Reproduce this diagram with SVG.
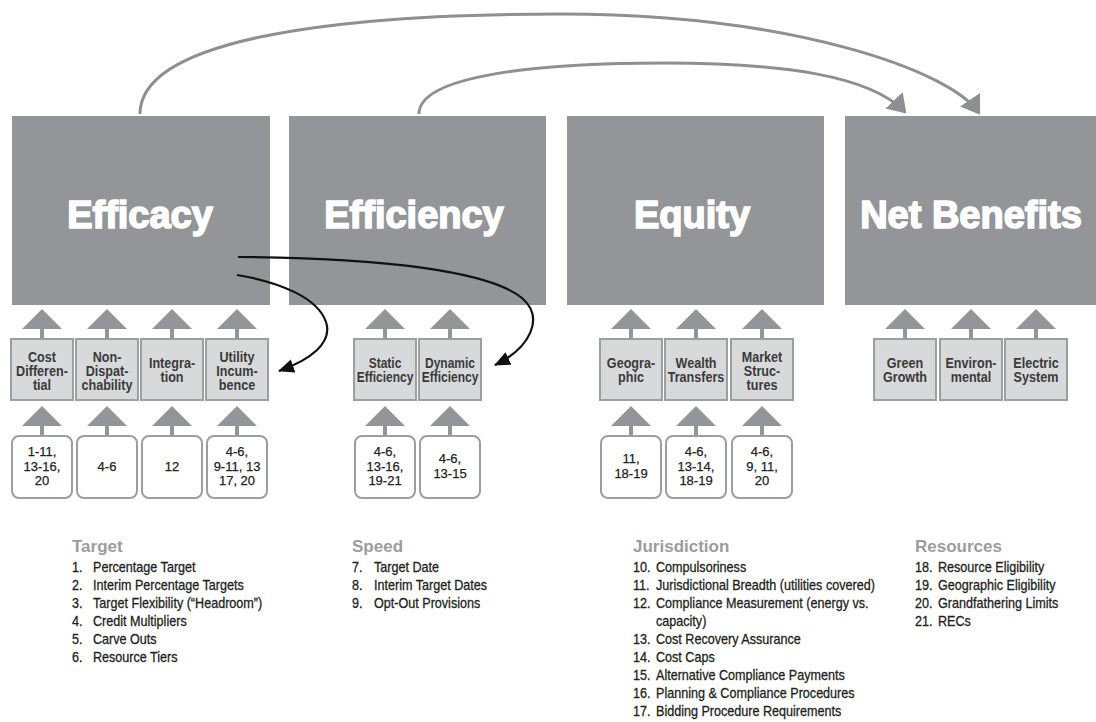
<svg xmlns="http://www.w3.org/2000/svg" xmlns:xlink="http://www.w3.org/1999/xlink" width="1096" height="722" viewBox="0 0 1096 722">
  <style>
    .big { fill: #939598; }
    .bigt { font-family: "Liberation Sans", Arial, sans-serif; font-weight: bold; font-size: 38px; fill: #fff; stroke: #fff; stroke-width: 1.6; text-anchor: middle; }
    .tri { fill: #939598; }
    .sub { fill: #d8d9da; stroke: #9d9ea0; stroke-width: 2; }
    .subt { font-family: "Liberation Sans", Arial, sans-serif; font-weight: bold; font-size: 15px; fill: #3a3a3a; text-anchor: middle; }
    .num { fill: #fff; stroke: #9d9ea0; stroke-width: 2; }
    .numt { font-family: "Liberation Sans", Arial, sans-serif; font-size: 13px; fill: #222; stroke: #222; stroke-width: 0.25; text-anchor: middle; }
    .arc { fill: none; stroke: #8e8f91; stroke-width: 3; }
    .blk { fill: none; stroke: #111; stroke-width: 2.2; }
    .hd { font-family: "Liberation Sans", Arial, sans-serif; font-weight: bold; font-size: 17px; fill: #9c9c9c; }
    .it { font-family: "Liberation Sans", Arial, sans-serif; font-size: 14px; fill: #231f20; stroke: #231f20; stroke-width: 0.3; }
  </style>
  <defs>
    <!-- small upward arrow: triangle head with a short stem -->
    <path id="up" class="tri" d="M0,0 L20,20 L2,20 L2,30 L-2,30 L-2,20 L-20,20 Z"/>
    <marker id="headBlack" viewBox="0 0 16 14" refX="15" refY="7" markerWidth="16" markerHeight="14" markerUnits="userSpaceOnUse" orient="auto">
      <path d="M0,0 L16,7 L0,14 Z" fill="#111"/>
    </marker>
    <marker id="headGray" viewBox="0 0 18 24" refX="16" refY="12" markerWidth="18" markerHeight="24" markerUnits="userSpaceOnUse" orient="auto">
      <path d="M0,0 L18,12 L0,24 Z" fill="#8e8f91"/>
    </marker>
  </defs>

  <rect width="1096" height="722" fill="#fff"/>

  <!-- main pillars -->
  <g id="efficacy">
    <rect class="big" x="12" y="116" width="258" height="189"/>
    <text class="bigt" x="140" y="228">Efficacy</text>
  </g>
  <g id="efficiency">
    <rect class="big" x="289" y="116" width="257" height="189"/>
    <text class="bigt" x="414" y="228">Efficiency</text>
  </g>
  <g id="equity">
    <rect class="big" x="567" y="116" width="257" height="189"/>
    <text class="bigt" x="692" y="228">Equity</text>
  </g>
  <g id="net-benefits">
    <rect class="big" x="845" y="116" width="260" height="189"/>
    <text class="bigt" x="971" y="228">Net Benefits</text>
  </g>

  <!-- Efficacy sub-criteria -->
  <g id="cost-differential">
    <use xlink:href="#up" x="42" y="309"/>
    <rect class="sub" x="11" y="339" width="62" height="61"/>
    <g transform="translate(42 0) scale(0.84 1)">
      <text class="subt" y="362">Cost</text>
      <text class="subt" y="376">Differen-</text>
      <text class="subt" y="390">tial</text>
    </g>
    <use xlink:href="#up" x="42" y="406"/>
    <rect class="num" x="12" y="436" width="60" height="62" rx="7"/>
    <text class="numt" x="42" y="456">1-11,</text>
    <text class="numt" x="42" y="470.5">13-16,</text>
    <text class="numt" x="42" y="485">20</text>
  </g>
  <g id="non-dispatchability">
    <use xlink:href="#up" x="107" y="309"/>
    <rect class="sub" x="76" y="339" width="62" height="61"/>
    <g transform="translate(107 0) scale(0.84 1)">
      <text class="subt" y="362">Non-</text>
      <text class="subt" y="376">Dispat-</text>
      <text class="subt" y="390">chability</text>
    </g>
    <use xlink:href="#up" x="107" y="406"/>
    <rect class="num" x="77" y="436" width="60" height="62" rx="7"/>
    <text class="numt" x="107" y="471">4-6</text>
  </g>
  <g id="integration">
    <use xlink:href="#up" x="172" y="309"/>
    <rect class="sub" x="141" y="339" width="62" height="61"/>
    <g transform="translate(172 0) scale(0.84 1)">
      <text class="subt" y="368">Integra-</text>
      <text class="subt" y="382">tion</text>
    </g>
    <use xlink:href="#up" x="172" y="406"/>
    <rect class="num" x="142" y="436" width="60" height="62" rx="7"/>
    <text class="numt" x="172" y="471">12</text>
  </g>
  <g id="utility-incumbence">
    <use xlink:href="#up" x="237" y="309"/>
    <rect class="sub" x="206" y="339" width="62" height="61"/>
    <g transform="translate(237 0) scale(0.84 1)">
      <text class="subt" y="362">Utility</text>
      <text class="subt" y="376">Incum-</text>
      <text class="subt" y="390">bence</text>
    </g>
    <use xlink:href="#up" x="237" y="406"/>
    <rect class="num" x="207" y="436" width="60" height="62" rx="7"/>
    <text class="numt" x="237" y="456">4-6,</text>
    <text class="numt" x="237" y="470.5">9-11, 13</text>
    <text class="numt" x="237" y="485">17, 20</text>
  </g>

  <!-- Efficiency sub-criteria -->
  <g id="static-efficiency">
    <use xlink:href="#up" x="385" y="309"/>
    <rect class="sub" x="354" y="339" width="62" height="61"/>
    <g transform="translate(385 0) scale(0.8 1)">
      <text class="subt" y="368">Static</text>
      <text class="subt" y="382">Efficiency</text>
    </g>
    <use xlink:href="#up" x="385" y="406"/>
    <rect class="num" x="355" y="436" width="60" height="62" rx="7"/>
    <text class="numt" x="385" y="456">4-6,</text>
    <text class="numt" x="385" y="470.5">13-16,</text>
    <text class="numt" x="385" y="485">19-21</text>
  </g>
  <g id="dynamic-efficiency">
    <use xlink:href="#up" x="450" y="309"/>
    <rect class="sub" x="419" y="339" width="62" height="61"/>
    <g transform="translate(450 0) scale(0.8 1)">
      <text class="subt" y="368">Dynamic</text>
      <text class="subt" y="382">Efficiency</text>
    </g>
    <use xlink:href="#up" x="450" y="406"/>
    <rect class="num" x="420" y="436" width="60" height="62" rx="7"/>
    <text class="numt" x="450" y="463">4-6,</text>
    <text class="numt" x="450" y="477.5">13-15</text>
  </g>

  <!-- Equity sub-criteria -->
  <g id="geographic">
    <use xlink:href="#up" x="631" y="309"/>
    <rect class="sub" x="600" y="339" width="62" height="61"/>
    <g transform="translate(631 0) scale(0.84 1)">
      <text class="subt" y="368">Geogra-</text>
      <text class="subt" y="382">phic</text>
    </g>
    <use xlink:href="#up" x="631" y="406"/>
    <rect class="num" x="601" y="436" width="60" height="62" rx="7"/>
    <text class="numt" x="631" y="463">11,</text>
    <text class="numt" x="631" y="477.5">18-19</text>
  </g>
  <g id="wealth-transfers">
    <use xlink:href="#up" x="696" y="309"/>
    <rect class="sub" x="665" y="339" width="62" height="61"/>
    <g transform="translate(696 0) scale(0.84 1)">
      <text class="subt" y="368">Wealth</text>
      <text class="subt" y="382">Transfers</text>
    </g>
    <use xlink:href="#up" x="696" y="406"/>
    <rect class="num" x="666" y="436" width="60" height="62" rx="7"/>
    <text class="numt" x="696" y="456">4-6,</text>
    <text class="numt" x="696" y="470.5">13-14,</text>
    <text class="numt" x="696" y="485">18-19</text>
  </g>
  <g id="market-structures">
    <use xlink:href="#up" x="762" y="309"/>
    <rect class="sub" x="731" y="339" width="62" height="61"/>
    <g transform="translate(762 0) scale(0.84 1)">
      <text class="subt" y="362">Market</text>
      <text class="subt" y="376">Struc-</text>
      <text class="subt" y="390">tures</text>
    </g>
    <use xlink:href="#up" x="762" y="406"/>
    <rect class="num" x="732" y="436" width="60" height="62" rx="7"/>
    <text class="numt" x="762" y="456">4-6,</text>
    <text class="numt" x="762" y="470.5">9, 11,</text>
    <text class="numt" x="762" y="485">20</text>
  </g>

  <!-- Net Benefits sub-criteria -->
  <g id="green-growth">
    <use xlink:href="#up" x="905" y="309"/>
    <rect class="sub" x="874" y="339" width="62" height="61"/>
    <g transform="translate(905 0) scale(0.84 1)">
      <text class="subt" y="368">Green</text>
      <text class="subt" y="382">Growth</text>
    </g>
  </g>
  <g id="environmental">
    <use xlink:href="#up" x="971" y="309"/>
    <rect class="sub" x="940" y="339" width="62" height="61"/>
    <g transform="translate(971 0) scale(0.84 1)">
      <text class="subt" y="368">Environ-</text>
      <text class="subt" y="382">mental</text>
    </g>
  </g>
  <g id="electric-system">
    <use xlink:href="#up" x="1036" y="309"/>
    <rect class="sub" x="1005" y="339" width="62" height="61"/>
    <g transform="translate(1036 0) scale(0.84 1)">
      <text class="subt" y="368">Electric</text>
      <text class="subt" y="382">System</text>
    </g>
  </g>

  <!-- connectors -->
  <g id="connectors">
    <path class="arc" d="M140,114 C140,40 330,14 560,14 C790,14 950,70 979,113" marker-end="url(#headGray)"/>
    <path class="arc" d="M419,114 C419,75 540,63 664,63 C780,63 870,75 905,112" marker-end="url(#headGray)"/>
    <path class="blk" d="M238,257 C390,258 490,272 522,298 C545,318 530,348 495,365" marker-end="url(#headBlack)"/>
    <path class="blk" d="M237,275 C280,282 318,298 326,322 C333,343 310,360 279,371" marker-end="url(#headBlack)"/>
  </g>

  <!-- legend: policy design elements -->
  <g id="legend-target">
    <text class="hd" x="72" y="552">Target</text>
    <g transform="translate(72 0) scale(0.9 1)">
      <text class="it" y="572">1.</text>
      <text class="it" y="590">2.</text>
      <text class="it" y="608">3.</text>
      <text class="it" y="626">4.</text>
      <text class="it" y="644">5.</text>
      <text class="it" y="662">6.</text>
    </g>
    <g transform="translate(93 0) scale(0.9 1)">
      <text class="it" y="572">Percentage Target</text>
      <text class="it" y="590">Interim Percentage Targets</text>
      <text class="it" y="608">Target Flexibility (“Headroom”)</text>
      <text class="it" y="626">Credit Multipliers</text>
      <text class="it" y="644">Carve Outs</text>
      <text class="it" y="662">Resource Tiers</text>
    </g>
  </g>
  <g id="legend-speed">
    <text class="hd" x="352" y="552">Speed</text>
    <g transform="translate(352 0) scale(0.9 1)">
      <text class="it" y="572">7.</text>
      <text class="it" y="590">8.</text>
      <text class="it" y="608">9.</text>
    </g>
    <g transform="translate(374 0) scale(0.9 1)">
      <text class="it" y="572">Target Date</text>
      <text class="it" y="590">Interim Target Dates</text>
      <text class="it" y="608">Opt-Out Provisions</text>
    </g>
  </g>
  <g id="legend-jurisdiction">
    <text class="hd" x="633" y="552">Jurisdiction</text>
    <g transform="translate(633 0) scale(0.9 1)">
      <text class="it" y="572">10.</text>
      <text class="it" y="590">11.</text>
      <text class="it" y="608">12.</text>
      <text class="it" y="644">13.</text>
      <text class="it" y="662">14.</text>
      <text class="it" y="680">15.</text>
      <text class="it" y="698">16.</text>
      <text class="it" y="716">17.</text>
    </g>
    <g transform="translate(656 0) scale(0.9 1)">
      <text class="it" y="572">Compulsoriness</text>
      <text class="it" y="590">Jurisdictional Breadth (utilities covered)</text>
      <text class="it" y="608">Compliance Measurement (energy vs.</text>
      <text class="it" y="626">capacity)</text>
      <text class="it" y="644">Cost Recovery Assurance</text>
      <text class="it" y="662">Cost Caps</text>
      <text class="it" y="680">Alternative Compliance Payments</text>
      <text class="it" y="698">Planning &amp; Compliance Procedures</text>
      <text class="it" y="716">Bidding Procedure Requirements</text>
    </g>
  </g>
  <g id="legend-resources">
    <text class="hd" x="915" y="552">Resources</text>
    <g transform="translate(915 0) scale(0.9 1)">
      <text class="it" y="572">18.</text>
      <text class="it" y="590">19.</text>
      <text class="it" y="608">20.</text>
      <text class="it" y="626">21.</text>
    </g>
    <g transform="translate(938 0) scale(0.9 1)">
      <text class="it" y="572">Resource Eligibility</text>
      <text class="it" y="590">Geographic Eligibility</text>
      <text class="it" y="608">Grandfathering Limits</text>
      <text class="it" y="626">RECs</text>
    </g>
  </g>
</svg>
